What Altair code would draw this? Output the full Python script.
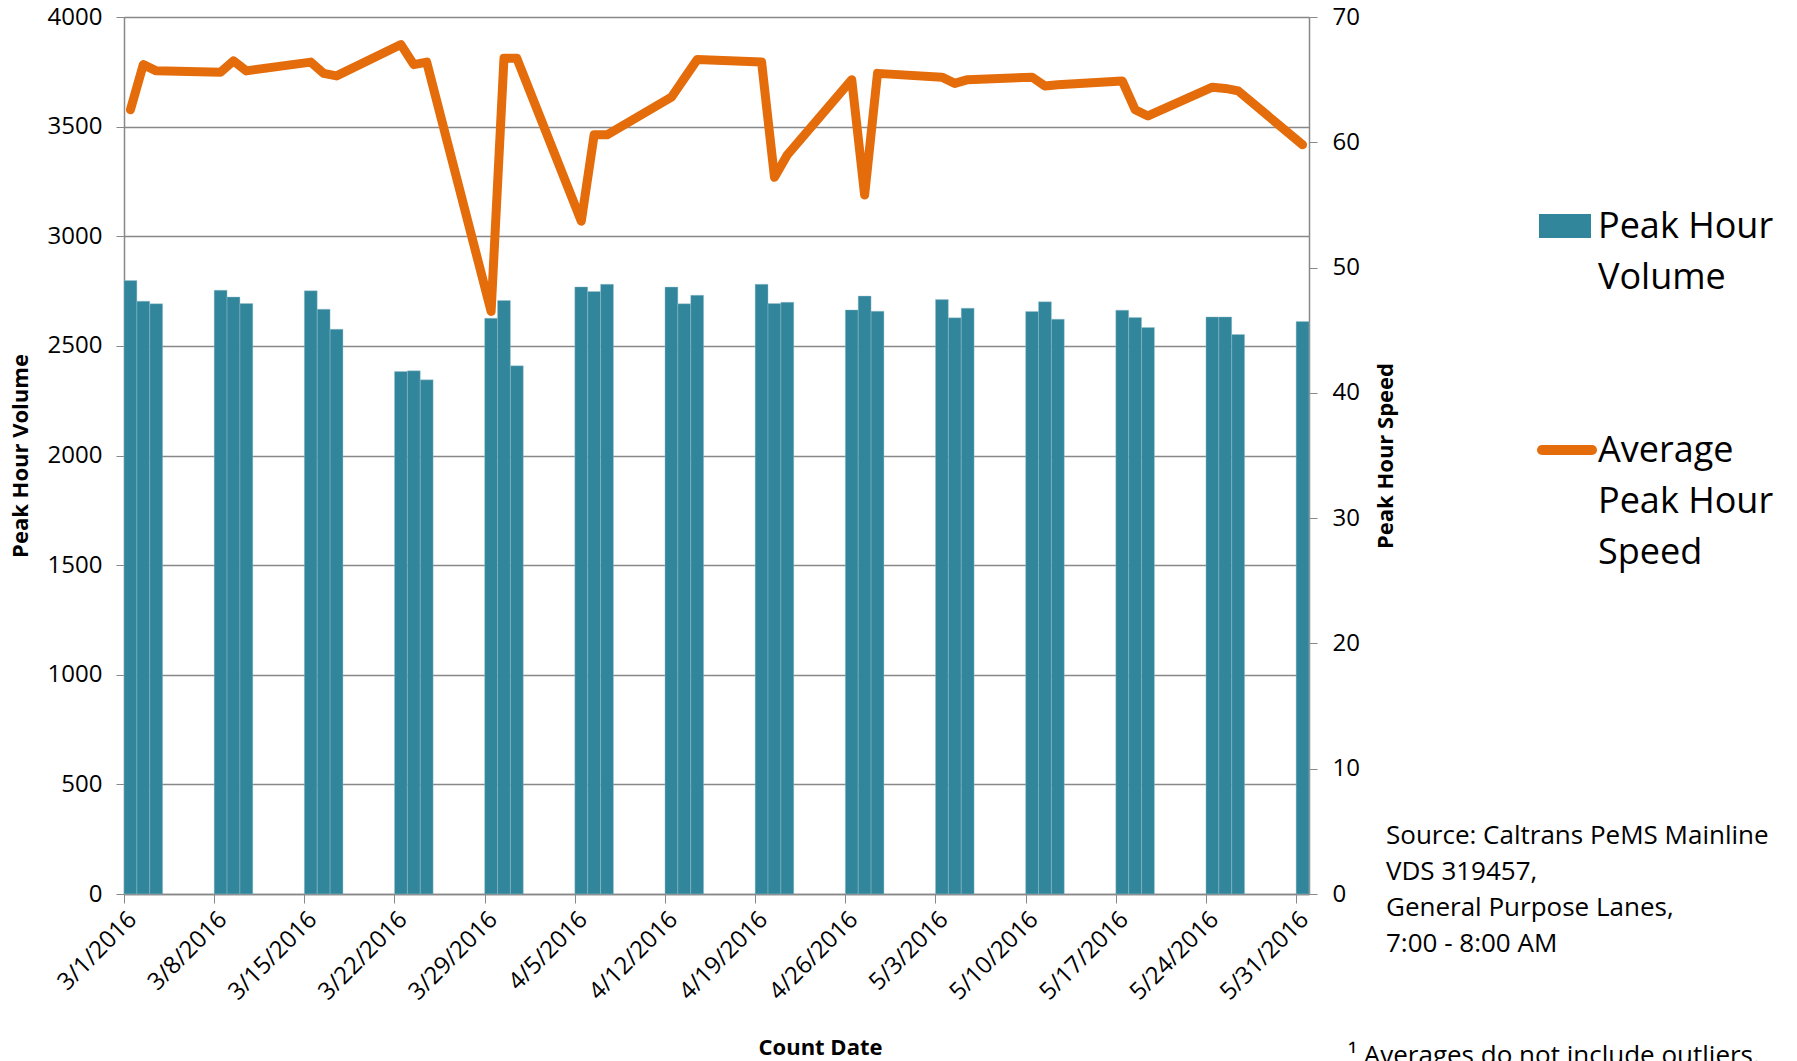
import altair as alt
import pandas as pd

# ---------------- data ----------------
dates = [
    "2016-03-01", "2016-03-02", "2016-03-03",
    "2016-03-08", "2016-03-09", "2016-03-10",
    "2016-03-15", "2016-03-16", "2016-03-17",
    "2016-03-22", "2016-03-23", "2016-03-24",
    "2016-03-29", "2016-03-30", "2016-03-31",
    "2016-04-05", "2016-04-06", "2016-04-07",
    "2016-04-12", "2016-04-13", "2016-04-14",
    "2016-04-19", "2016-04-20", "2016-04-21",
    "2016-04-26", "2016-04-27", "2016-04-28",
    "2016-05-03", "2016-05-04", "2016-05-05",
    "2016-05-10", "2016-05-11", "2016-05-12",
    "2016-05-17", "2016-05-18", "2016-05-19",
    "2016-05-24", "2016-05-25", "2016-05-26",
    "2016-05-31",
]
volume = [
    2798, 2704, 2692,
    2754, 2723, 2693,
    2751, 2667, 2576,
    2383, 2386, 2345,
    2626, 2707, 2409,
    2769, 2748, 2781,
    2768, 2692, 2731,
    2781, 2693, 2699,
    2664, 2727, 2658,
    2711, 2628, 2672,
    2657, 2701, 2622,
    2663, 2629, 2584,
    2632, 2632, 2552,
    2611,
]
speed = [
    62.6, 66.2, 65.7,
    65.6, 66.5, 65.7,
    66.4, 65.5, 65.3,
    67.8, 66.2, 66.4,
    46.5, 66.7, 66.7,
    53.7, 60.6, 60.6,
    63.6, 65.1, 66.6,
    66.4, 57.2, 59.0,
    65.0, 55.8, 65.5,
    65.2, 64.7, 65.0,
    65.2, 64.5, 64.6,
    64.9, 62.6, 62.1,
    64.4, 64.3, 64.1,
    59.8,
]
tick_labels = [
    "3/1/2016", "3/8/2016", "3/15/2016", "3/22/2016", "3/29/2016",
    "4/5/2016", "4/12/2016", "4/19/2016", "4/26/2016", "5/3/2016",
    "5/10/2016", "5/17/2016", "5/24/2016", "5/31/2016",
]
volume_ticks = [0, 500, 1000, 1500, 2000, 2500, 3000, 3500, 4000]
speed_ticks = [0, 10, 20, 30, 40, 50, 60, 70]
legend_volume = ["Peak Hour", "Volume"]
legend_speed = ["Average", "Peak Hour", "Speed"]
source_lines = ["Source: Caltrans PeMS Mainline", "VDS 319457,",
                "General Purpose Lanes,", "7:00 - 8:00 AM"]
footnote = "\u00b9 Averages do not include outliers."

# ---------------- styles ----------------
BAR_COLOR = "#32869C"
LINE_COLOR = "#E46C0A"
GRAY = "#888888"
FONT = "Open Sans"
LEFT, TOP = 124, 17
W, H = 1185, 877

d = pd.to_datetime(pd.Series(dates))
fmt = "%Y-%m-%dT%H:%M:%SZ"
df = pd.DataFrame({
    "start": d.dt.strftime(fmt),
    "end": (d + pd.Timedelta(days=1)).dt.strftime(fmt),
    "mid": (d + pd.Timedelta(hours=12)).dt.strftime(fmt),
    "volume": volume,
    "speed": speed,
})

tick_dt = pd.to_datetime(pd.Series(tick_labels), format="%m/%d/%Y")
tick_values = [alt.DateTime(year=int(t.year), month=int(t.month), date=int(t.day), utc=True)
               for t in tick_dt]
x_domain = [alt.DateTime(year=2016, month=3, date=1, utc=True),
            alt.DateTime(year=2016, month=6, date=1, utc=True)]

x_axis = alt.Axis(
    values=tick_values, format="%-m/%-d/%Y", labelAngle=-45,
    labelAlign="right", labelBaseline="top", labelPadding=4,
    labelOverlap=False, labelFlush=False,
    labelFontSize=24, labelColor="#000000", labelFont=FONT,
    tickSize=9, tickColor=GRAY, domainColor=GRAY, domainWidth=1.5,
    grid=False, title="Count Date", titleFont=FONT, titleFontSize=22,
    titleFontWeight="bold", titleColor="#000000",
    titleX=696, titleY=160, titleBaseline="alphabetic",
)
x_scale = alt.Scale(type="utc", domain=x_domain)

bars = alt.Chart(df).mark_bar(color=BAR_COLOR, stroke="#9cc4cf", strokeWidth=0.4).encode(
    x=alt.X("start:T", scale=x_scale, axis=x_axis),
    x2="end:T",
    y=alt.Y("volume:Q",
            scale=alt.Scale(domain=[0, 4000], nice=False),
            axis=alt.Axis(values=volume_ticks, format="d", grid=True, gridColor=GRAY,
                          gridWidth=1.3,
                          tickSize=8, tickColor=GRAY, domainColor=GRAY, domainWidth=1.5,
                          labelFontSize=24, labelFont=FONT, labelColor="#000000",
                          labelPadding=14,
                          title="Peak Hour Volume", titleFont=FONT, titleFontSize=22,
                          titleFontWeight="bold", titleColor="#000000",
                          titleAngle=270, titleX=-92, titleY=H / 2,
                          titleBaseline="bottom", titleAlign="center")),
    y2=alt.datum(0),
)

line = alt.Chart(df).mark_line(color=LINE_COLOR, strokeWidth=9, strokeCap="round",
                               strokeJoin="round").encode(
    x=alt.X("mid:T", scale=x_scale, axis=x_axis),
    y=alt.Y("speed:Q",
            scale=alt.Scale(domain=[0, 70], nice=False),
            axis=alt.Axis(orient="right", values=speed_ticks, format="d", grid=False,
                          tickSize=8, tickColor=GRAY, domainColor=GRAY, domainWidth=1.5,
                          labelFontSize=24, labelFont=FONT, labelColor="#000000",
                          labelPadding=15,
                          title="Peak Hour Speed", titleFont=FONT, titleFontSize=22,
                          titleFontWeight="bold", titleColor="#000000",
                          titleAngle=270, titleX=88, titleY=H / 2,
                          titleBaseline="bottom", titleAlign="center")),
)

one = pd.DataFrame({"k": [0]})

leg_rect = alt.Chart(one).mark_rect(color=BAR_COLOR).encode(
    x=alt.value(1539 - LEFT), x2=alt.value(1591 - LEFT),
    y=alt.value(214 - TOP), y2=alt.value(238 - TOP),
)
leg_line = alt.Chart(one).mark_rule(color=LINE_COLOR, strokeWidth=10, strokeCap="round").encode(
    x=alt.value(1542 - LEFT), x2=alt.value(1592 - LEFT), y=alt.value(450 - TOP),
)


def text_block(lines, x, y, size, lh):
    return alt.Chart(one).mark_text(
        text=lines, align="left", baseline="alphabetic", font=FONT,
        fontSize=size, lineHeight=lh, color="#000000",
    ).encode(x=alt.value(x - LEFT), y=alt.value(y - TOP))


leg_t1 = text_block(legend_volume, 1598, 238, 36, 51)
leg_t2 = text_block(legend_speed, 1598, 462, 36, 51)
src = text_block(source_lines, 1386, 844, 26, 36)
foot = text_block([footnote], 1348, 1064, 26, 36)

chart = alt.layer(bars, line, leg_rect, leg_line, leg_t1, leg_t2, src, foot).resolve_scale(
    y="independent"
).properties(
    width=W, height=H,
    autosize=alt.AutoSizeParams(type="none"),
    padding={"left": LEFT, "top": TOP, "right": 1797 - LEFT - W, "bottom": 1061 - TOP - H},
).configure_view(strokeWidth=0).configure(background="white")

chart.save("out.html", embed_options={"renderer": "svg", "actions": False})
